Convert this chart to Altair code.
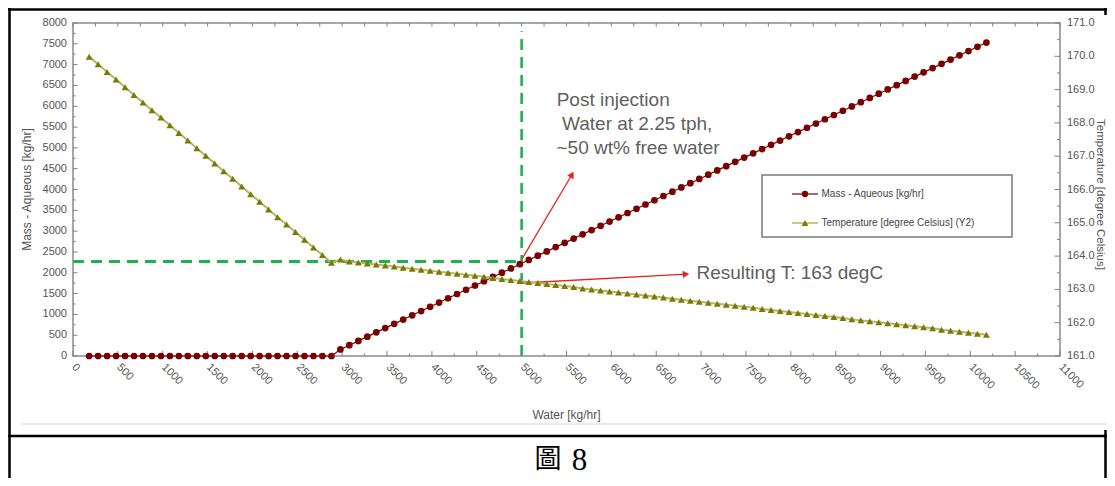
import altair as alt
import pandas as pd

# ---------------- data ----------------
water_x = [180, 280, 380, 480, 580, 680, 780, 880, 980, 1080,
           1180, 1280, 1380, 1480, 1580, 1680, 1780, 1880, 1980, 2080,
           2180, 2280, 2380, 2480, 2580, 2680, 2780, 2880, 2980, 3080,
           3180, 3280, 3380, 3480, 3580, 3680, 3780, 3880, 3980, 4080,
           4180, 4280, 4380, 4480, 4580, 4680, 4780, 4880, 4980, 5080,
           5180, 5280, 5380, 5480, 5580, 5680, 5780, 5880, 5980, 6080,
           6180, 6280, 6380, 6480, 6580, 6680, 6780, 6880, 6980, 7080,
           7180, 7280, 7380, 7480, 7580, 7680, 7780, 7880, 7980, 8080,
           8180, 8280, 8380, 8480, 8580, 8680, 8780, 8880, 8980, 9080,
           9180, 9280, 9380, 9480, 9580, 9680, 9780, 9880, 9980, 10080,
           10180]

mass_aqueous = [0, 0, 0, 0, 0, 0, 0, 0, 0, 0,
                0, 0, 0, 0, 0, 0, 0, 0, 0, 0,
                0, 0, 0, 0, 0, 0, 0, 0,
                158, 260, 363, 465, 568, 670, 772, 875, 977, 1080,
                1182, 1284, 1387, 1489, 1592, 1694, 1796, 1899, 2001, 2104,
                2206, 2308, 2411, 2513, 2616, 2718, 2820, 2923, 3025, 3128,
                3230, 3332, 3435, 3537, 3640, 3742, 3844, 3947, 4049, 4152,
                4254, 4356, 4459, 4561, 4664, 4766, 4868, 4971, 5073, 5176,
                5278, 5380, 5483, 5585, 5688, 5790, 5892, 5995, 6097, 6200,
                6302, 6404, 6507, 6609, 6712, 6814, 6916, 7019, 7121, 7224,
                7326, 7428, 7531]

temperature = [169.99, 169.76, 169.53, 169.30, 169.07, 168.84, 168.61, 168.38, 168.16, 167.93,
               167.70, 167.47, 167.24, 167.01, 166.78, 166.55, 166.32, 166.09, 165.86, 165.63,
               165.40, 165.17, 164.95, 164.72, 164.49, 164.26, 164.03, 163.80,
               163.90,
               163.84, 163.81, 163.78, 163.75, 163.72, 163.69, 163.65, 163.62, 163.59, 163.56,
               163.53, 163.50, 163.47, 163.44, 163.41, 163.38, 163.34, 163.31, 163.28, 163.25,
               163.22, 163.19, 163.16, 163.13, 163.10, 163.07, 163.03, 163.00, 162.97, 162.94,
               162.91, 162.88, 162.85, 162.82, 162.79, 162.76, 162.72, 162.69, 162.66, 162.63,
               162.60, 162.57, 162.54, 162.51, 162.48, 162.45, 162.41, 162.38, 162.35, 162.32,
               162.29, 162.26, 162.23, 162.20, 162.17, 162.14, 162.10, 162.07, 162.04, 162.01,
               161.98, 161.95, 161.92, 161.89, 161.86, 161.83, 161.79, 161.76, 161.73, 161.70,
               161.67, 161.64]

# reference lines (green dashed)
guide_water = [5000]
guide_mass = [2270]

# axis ticks
x_ticks_major = list(range(0, 11001, 500))
x_ticks_minor = list(range(250, 11000, 500))
y_ticks_major = list(range(0, 8001, 500))
y_ticks_minor = list(range(250, 8000, 500))
t_ticks_major = [161.0, 162.0, 163.0, 164.0, 165.0, 166.0, 167.0, 168.0, 169.0, 170.0, 171.0]
t_ticks_minor = [161.5, 162.5, 163.5, 164.5, 165.5, 166.5, 167.5, 168.5, 169.5, 170.5]
x_tick_labels = [str(v) for v in x_ticks_major]
y_tick_labels = [str(v) for v in y_ticks_major]
t_tick_labels = ["%.1f" % v for v in t_ticks_major]

# texts
x_title = "Water [kg/hr]"
y_title = "Mass - Aqueous [kg/hr]"
y2_title = "Temperature [degree Celsius]"
note_lines = ["Post injection", "Water at 2.25 tph,", "~50 wt% free water"]
result_text = "Resulting T: 163 degC"
legend_labels = ["Mass - Aqueous [kg/hr]", "Temperature [degree Celsius] (Y2)"]
caption_word = "圖"
caption_num = "8"

# ---------------- layout ----------------
W, H = 987, 333
FONT = "Liberation Sans"
MASS_C = "#7b0000"
TEMP_C = "#7a7a00"
TEMP_LINE = "#b4b46a"
GREEN = "#1fb050"
RED = "#e8231c"
LABEL_C = "#555555"

df = pd.DataFrame({"water": water_x, "mass": mass_aqueous, "temp": temperature})

xscale = alt.Scale(domain=[0, 11000], nice=False, zero=False)
mscale = alt.Scale(domain=[0, 8000], nice=False, zero=False)
tscale = alt.Scale(domain=[161, 171], nice=False, zero=False)

base = alt.Chart(df)

mass_line = base.mark_line(color=MASS_C, strokeWidth=1.2).encode(
    x=alt.X("water:Q", scale=xscale, axis=None),
    y=alt.Y("mass:Q", scale=mscale, axis=None),
)
mass_pts = base.mark_point(filled=True, shape="circle", size=45, color=MASS_C, opacity=1).encode(
    x=alt.X("water:Q", scale=xscale, axis=None),
    y=alt.Y("mass:Q", scale=mscale, axis=None),
)

temp_line = base.mark_line(color=TEMP_LINE, strokeWidth=2).encode(
    x=alt.X("water:Q", scale=xscale, axis=None),
    y=alt.Y("temp:Q", scale=tscale, axis=None),
)
temp_pts = base.mark_point(filled=True, shape="triangle-up", size=48, color=TEMP_C, opacity=1).encode(
    x=alt.X("water:Q", scale=xscale, axis=None),
    y=alt.Y("temp:Q", scale=tscale, axis=None),
)

# green dashed guides
guide_df = pd.DataFrame({"gx": guide_water, "gy": guide_mass, "x0": [0], "ytop": [7800], "y0": [0]})
vguide = alt.Chart(guide_df).mark_rule(color=GREEN, strokeWidth=2.6, strokeDash=[11, 7]).encode(
    x=alt.X("gx:Q", scale=xscale, axis=None),
    y=alt.Y("y0:Q", scale=mscale, axis=None),
    y2="ytop:Q",
)
hguide = alt.Chart(guide_df).mark_rule(color=GREEN, strokeWidth=2.8, strokeDash=[11, 7]).encode(
    x=alt.X("x0:Q", scale=xscale, axis=None),
    x2="gx:Q",
    y=alt.Y("gy:Q", scale=mscale, axis=None),
)

# inward ticks
def vticks(vals, y1, y2):
    return alt.Chart(pd.DataFrame({"v": vals})).mark_rule(color="#808080", strokeWidth=1).encode(
        x=alt.X("v:Q", scale=xscale, axis=None), y=alt.value(y1), y2=alt.value(y2))

def mticks(vals, length):
    return alt.Chart(pd.DataFrame({"v": vals})).mark_rule(color="#808080", strokeWidth=1).encode(
        y=alt.Y("v:Q", scale=mscale, axis=None), x=alt.value(0), x2=alt.value(length))

def tticks(vals, length):
    return alt.Chart(pd.DataFrame({"v": vals})).mark_rule(color="#808080", strokeWidth=1).encode(
        y=alt.Y("v:Q", scale=tscale, axis=None), x=alt.value(W), x2=alt.value(W - length))

# tick labels (through the scales)
x_labels = alt.Chart(pd.DataFrame({"v": x_ticks_major, "t": x_tick_labels})).mark_text(
    angle=45, align="left", baseline="middle", fontSize=11, color=LABEL_C, font=FONT, dx=1
).encode(x=alt.X("v:Q", scale=xscale, axis=None), y=alt.value(H + 9), text="t:N")

m_labels = alt.Chart(pd.DataFrame({"v": y_ticks_major, "t": y_tick_labels})).mark_text(
    align="right", baseline="middle", fontSize=11, color=LABEL_C, font=FONT
).encode(y=alt.Y("v:Q", scale=mscale, axis=None), x=alt.value(-6), text="t:N")

t_labels = alt.Chart(pd.DataFrame({"v": t_ticks_major, "t": t_tick_labels})).mark_text(
    align="left", baseline="middle", fontSize=11, color=LABEL_C, font=FONT
).encode(y=alt.Y("v:Q", scale=tscale, axis=None), x=alt.value(W + 7), text="t:N")

one = pd.DataFrame({"d": [0]})

def seg(x1, y1, x2, y2, color, width, dash=None):
    kw = dict(color=color, strokeWidth=width)
    if dash:
        kw["strokeDash"] = dash
    return alt.Chart(one).mark_rule(**kw).encode(
        x=alt.value(x1), y=alt.value(y1), x2=alt.value(x2), y2=alt.value(y2))

def txt(s, x, y, size, color, align="left", baseline="alphabetic", font=FONT, angle=0):
    return alt.Chart(one).mark_text(text=s, align=align, baseline=baseline, fontSize=size,
                                    color=color, font=font, angle=angle).encode(
        x=alt.value(x), y=alt.value(y))

def head(x, y, angle, color):
    return alt.Chart(one).mark_point(shape="triangle-right", filled=True, size=55, color=color,
                                     opacity=1, angle=angle).encode(x=alt.value(x), y=alt.value(y))

titles = [
    txt(x_title, W / 2, H + 59, 12, LABEL_C, align="center", baseline="middle"),
    txt(y_title, -46, H / 2, 12, LABEL_C, align="center", baseline="middle", angle=270),
    txt(y2_title, W + 40, H / 2 + 5, 11.5, LABEL_C, align="center", baseline="middle", angle=90),
]

# annotations
ann = [
    txt(note_lines[0], 483.7, 83, 19, "#5f5f5f"),
    txt(note_lines[1], 489, 106.5, 19, "#5f5f5f"),
    txt(note_lines[2], 483.5, 130.5, 19, "#5f5f5f"),
    txt(result_text, 623.5, 255.5, 19, "#5f5f5f"),
    seg(449, 236, 499, 151.5, RED, 1.3),
    head(499, 151.5, 300, RED),
    seg(449.7, 260, 613, 251.2, RED, 1.3),
    head(613, 251.2, 357, RED),
]

# legend box
legend_box = alt.Chart(one).mark_rect(fill="white", stroke="#7a7a7a", strokeWidth=1.5).encode(
    x=alt.value(689), x2=alt.value(939), y=alt.value(152), y2=alt.value(214))
leg = [
    legend_box,
    seg(719, 171, 745, 171, MASS_C, 1.2),
    alt.Chart(one).mark_point(filled=True, shape="circle", size=40, color=MASS_C, opacity=1).encode(
        x=alt.value(732), y=alt.value(171)),
    txt(legend_labels[0], 748.5, 171, 10, "#444444", baseline="middle"),
    seg(719, 200, 745, 200, TEMP_LINE, 1.5),
    alt.Chart(one).mark_point(filled=True, shape="triangle-up", size=45, color=TEMP_C, opacity=1).encode(
        x=alt.value(732), y=alt.value(200)),
    txt(legend_labels[1], 748.5, 200, 10, "#444444", baseline="middle"),
]

# page frame (document table look)
frame = [
    seg(-65, -13.5, 1034, -13.5, "black", 2.5),
    seg(-63.5, -15, -63.5, 455, "black", 2.5),
    seg(1032.5, -15, 1032.5, -8, "black", 2.5),
    seg(-52, 401, 1034, 401, "#ececec", 2.5),
    seg(-65, 413, 1034, 413, "black", 2.5),
    seg(1032.5, 407, 1032.5, 455, "black", 2.5),
    txt(caption_word, 475, 437, 27, "black", align="center", baseline="middle",
        font="Noto Sans CJK TC"),
    txt(caption_num, 506.5, 447, 31, "black", align="center", baseline="alphabetic",
        font="Liberation Serif"),
]

left = alt.layer(
    mass_line,
    vguide, hguide,
    vticks(x_ticks_major, H, H - 5), vticks(x_ticks_minor, H, H - 2.5),
    vticks(x_ticks_major, 0, 3.5), vticks(x_ticks_minor, 0, 3.5),
    mticks(y_ticks_major, 4.5), mticks(y_ticks_minor, 2.5),
    x_labels, m_labels,
    *titles,
    *leg,
    mass_pts,
    *ann,
    *frame,
)

right = alt.layer(
    temp_line,
    temp_pts,
    tticks(t_ticks_major, 5.5), tticks(t_ticks_minor, 3),
    t_labels,
)

chart = alt.layer(left, right).resolve_scale(y="independent").properties(
    width=W, height=H,
    autosize=alt.AutoSizeParams(type="none"),
    padding={"left": 65, "top": 15, "right": 47, "bottom": 122},
).configure(font=FONT, background="white").configure_view(stroke="#8a8a8a", strokeWidth=1.5)

chart.save("out.html", embed_options={"renderer": "svg", "actions": False})
